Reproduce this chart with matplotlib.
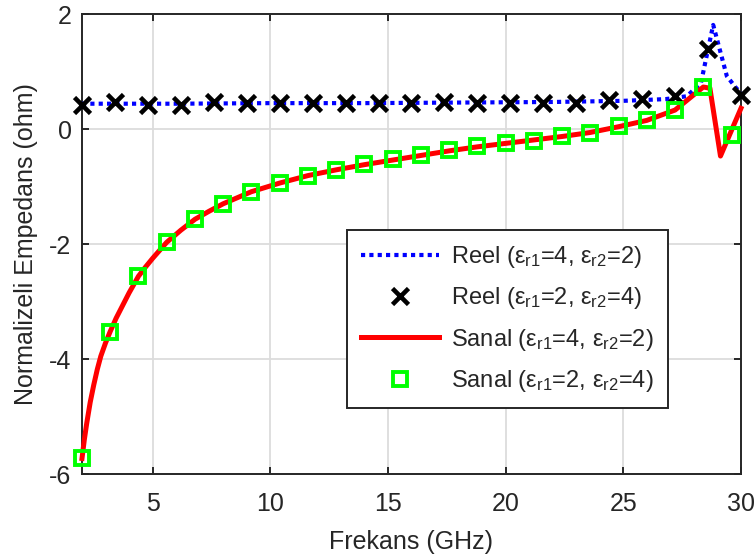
import matplotlib
matplotlib.use("Agg")
import matplotlib.pyplot as plt

plt.rcParams['font.family'] = ['Liberation Sans', 'DejaVu Sans']
plt.rcParams['mathtext.fontset'] = 'custom'
plt.rcParams['mathtext.rm'] = 'Liberation Sans'
plt.rcParams['mathtext.it'] = 'Liberation Sans'

# Reel, eps_r1=4, eps_r2=2 (dense line)
freq_reel_line = [2.0, 6.0, 10.0, 14.0, 18.0, 22.0, 25.0, 26.8, 27.7, 28.3,
                  28.82, 29.1, 29.4, 29.8, 30.0]
reel_line = [0.44, 0.44, 0.45, 0.45, 0.46, 0.47, 0.49, 0.52, 0.57, 0.80,
             1.81, 1.38, 0.92, 0.71, 0.63]

# Reel, eps_r1=2, eps_r2=4 (markers)
freq_reel_mark = [2.0, 3.4, 4.8, 6.2, 7.6, 9.0, 10.4, 11.8, 13.2, 14.6, 16.0,
                  17.4, 18.8, 20.2, 21.6, 23.0, 24.4, 25.8, 27.2, 28.6, 30.0]
reel_mark = [0.42, 0.47, 0.42, 0.42, 0.47, 0.46, 0.46, 0.46, 0.46, 0.46, 0.46,
             0.47, 0.46, 0.46, 0.45, 0.45, 0.50, 0.52, 0.57, 1.39, 0.585]

# Sanal, eps_r1=4, eps_r2=2 (dense line)
freq_sanal_line = [2.0, 2.1, 2.2, 2.35, 2.5, 2.65, 2.8, 3.0, 3.2, 3.45, 3.7,
                   4.0, 4.4, 4.7, 5.0, 5.6, 6.2, 6.8, 7.4, 8.0, 9.2, 10.4,
                   11.6, 12.8, 14.0, 15.2, 16.4, 17.6, 18.8, 20.0, 21.2, 22.4,
                   23.6, 24.8, 26.0, 27.2, 28.4, 28.68, 29.13, 30.0]
sanal_line = [-5.73, -5.40, -5.12, -4.75, -4.45, -4.18, -3.95, -3.72, -3.52,
              -3.29, -3.09, -2.85, -2.56, -2.40, -2.25, -1.97, -1.76, -1.57,
              -1.43, -1.30, -1.09, -0.94, -0.81, -0.71, -0.62, -0.54, -0.46,
              -0.38, -0.31, -0.25, -0.19, -0.13, -0.06, 0.04, 0.15, 0.33,
              0.73, 0.71, -0.47, 0.36]

# Sanal, eps_r1=2, eps_r2=4 (markers)
freq_sanal_mark = [2.0, 3.2, 4.4, 5.6, 6.8, 8.0, 9.2, 10.4, 11.6, 12.8, 14.0,
                   15.2, 16.4, 17.6, 18.8, 20.0, 21.2, 22.4, 23.6, 24.8, 26.0,
                   27.2, 28.4, 29.6]
sanal_mark = [-5.73, -3.53, -2.56, -1.97, -1.57, -1.31, -1.09, -0.945, -0.81,
              -0.71, -0.61, -0.53, -0.46, -0.365, -0.29, -0.25, -0.20, -0.13,
              -0.07, 0.05, 0.15, 0.325, 0.73, -0.10]

labels = ['Reel (ε$_{\\mathregular{r1}}$=4, ε$_{\\mathregular{r2}}$=2)',
          'Reel (ε$_{\\mathregular{r1}}$=2, ε$_{\\mathregular{r2}}$=4)',
          'Sanal (ε$_{\\mathregular{r1}}$=4, ε$_{\\mathregular{r2}}$=2)',
          'Sanal (ε$_{\\mathregular{r1}}$=2, ε$_{\\mathregular{r2}}$=4)']

xticks = [5, 10, 15, 20, 25, 30]
yticks = [-6, -4, -2, 0, 2]

dark = '#262626'

fig = plt.figure(figsize=(7.55, 5.58), dpi=100)
ax = fig.add_axes([0.1086, 0.1505, 0.8728, 0.8244])

ax.plot(freq_reel_line, reel_line, color=(0, 0, 1), lw=3.0,
        linestyle=(0, (1, 1)), dash_capstyle='butt', label=labels[0],
        clip_on=False, zorder=3)
ax.plot(freq_reel_mark, reel_mark, linestyle='none', marker='x',
        markersize=12, markeredgewidth=3.3, color='black', label=labels[1],
        clip_on=False, zorder=4)
ax.plot(freq_sanal_line, sanal_line, color=(1, 0, 0), lw=3.6,
        label=labels[2], clip_on=False, zorder=5)
ax.plot(freq_sanal_mark, sanal_mark, linestyle='none', marker='s',
        markersize=9.5, markeredgewidth=2.8, markeredgecolor=(0, 1, 0),
        markerfacecolor='none', label=labels[3], clip_on=False, zorder=6)

ax.set_xlim(2, 30)
ax.set_ylim(-6, 2)
ax.set_xticks(xticks)
ax.set_yticks(yticks)
ax.set_yticklabels([str(v) for v in yticks])
ax.grid(True, color='#dcdcdc', linewidth=1.3)
ax.set_axisbelow(True)
for sp in ax.spines.values():
    sp.set_color(dark)
    sp.set_linewidth(1.4)
ax.tick_params(direction='in', length=5, width=1.4, colors=dark,
               labelsize=18, top=True, right=True)
ax.tick_params(axis='x', pad=13)
ax.tick_params(axis='y', pad=7.5)

ax.set_xlabel('Frekans (GHz)', fontsize=18, color=dark, labelpad=10)
ax.set_ylabel('Normalizeli Empedans (ohm)', fontsize=18, color=dark,
              labelpad=8)

leg = ax.legend(loc='lower right', bbox_to_anchor=(0.889, 0.143),
                fontsize=17, frameon=True, fancybox=False, framealpha=1,
                edgecolor=dark, handlelength=3.3, borderpad=0.6,
                labelspacing=0.65, handletextpad=0.5, borderaxespad=0)
leg.get_frame().set_linewidth(1.4)
for t in leg.get_texts():
    t.set_color(dark)

fig.savefig('out.png', dpi=100)
